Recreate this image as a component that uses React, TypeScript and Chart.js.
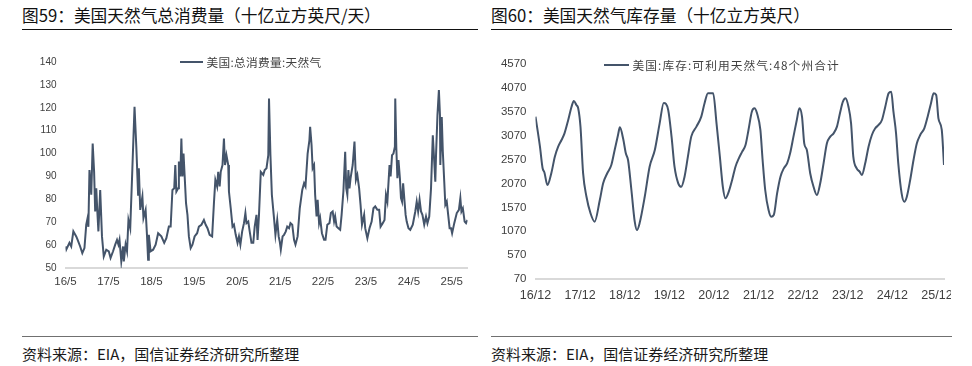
import React, { useEffect, useRef } from 'react';
import { Chart, registerables } from 'chart.js';

Chart.register(...registerables);

// ---------- Left chart: US natural gas total consumption (Bcf/d) ----------
// x = months since 2016-05
const consumptionMonths = [
  0.0, 0.2, 1.1, 1.6, 2.2, 3.0, 3.4, 4.1, 4.7, 5.3, 5.8, 6.2, 6.4, 6.7, 7.2, 7.6, 8.0, 8.3, 8.6, 8.9,
  9.2, 9.7, 10.2, 10.7, 11.4, 12.1, 12.6, 13.3, 13.9, 14.4, 14.8, 15.1, 15.6, 16.1, 16.3, 16.8, 17.2, 17.6, 18.1, 18.7,
  19.3, 19.8, 20.3, 20.5, 20.9, 21.5, 21.8, 22.4, 22.8, 23.1, 23.3, 23.8, 24.5, 25.2, 25.9, 26.8, 27.6, 28.2, 28.9, 29.4,
  29.9, 30.4, 30.7, 31.0, 31.5, 31.7, 32.1, 32.4, 32.7, 33.0, 33.3, 33.7, 34.1, 34.5, 35.0, 35.5, 36.1, 36.8, 37.3, 38.0,
  38.7, 39.2, 39.7, 40.3, 41.0, 41.5, 41.9, 42.4, 42.7, 43.1, 43.4, 43.9, 44.3, 44.6, 45.0, 45.5, 45.7, 46.2, 46.7, 47.1,
  47.6, 48.1, 48.5, 48.9, 49.4, 49.9, 50.3, 50.6, 51.1, 51.5, 52.0, 52.5, 52.9, 53.4, 53.7, 54.1, 54.6, 55.3, 55.7, 56.2,
  56.7, 56.9, 57.3, 57.7, 58.3, 58.7, 59.2, 59.6, 59.9, 60.2, 60.7, 61.1, 61.6, 62.0, 62.5, 62.9, 63.4, 63.9, 64.3, 64.9,
  65.5, 66.2, 66.7, 67.1, 67.7, 68.2, 68.4, 68.8, 69.1, 69.5, 69.8, 70.2, 70.5, 70.9, 71.2, 71.7, 72.3, 72.7, 73.2, 73.8,
  74.2, 74.7, 75.1, 75.4, 75.8, 76.3, 76.8, 77.2, 77.7, 78.2, 78.5, 78.8, 79.1, 79.4, 79.7, 80.3, 80.8, 81.2, 81.6, 82.1,
  82.5, 82.9, 83.5, 83.8, 84.4, 85.0, 85.6, 86.1, 86.6, 87.2, 87.7, 88.1, 88.7, 89.2, 89.6, 90.0, 90.6, 90.9, 91.3, 91.7,
  92.1, 92.2, 92.5, 92.8, 93.1, 93.5, 93.8, 94.1, 94.4, 94.8, 95.1, 95.4, 95.9, 96.4, 97.1, 97.8, 98.2, 98.6, 99.0, 99.4,
  99.8, 100.3, 100.8, 101.2, 101.7, 102.2, 102.7, 103.1, 103.4, 103.6, 104.0, 104.4, 104.7, 104.8, 105.2, 105.5, 105.9, 106.2, 106.6, 107.0,
  107.4, 107.8, 108.1, 108.7, 109.4, 110.0, 110.4, 110.7, 111.1, 111.6, 112.0, 112.4,
];
const consumptionValues = [
  59.4, 58, 61, 59.4, 66, 63.8, 62.3, 59.4, 56.5, 58.7, 68.9, 72, 68, 92.8, 82, 104.4, 92, 74.7, 84.8, 74.7,
  66, 84.1, 63.8, 55, 58, 57.3, 54.4, 57.3, 60.2, 62.3, 60.2, 62.3, 52.9, 59.4, 52.9, 60.2, 57.3, 71, 67.4, 93.6,
  120.4, 103, 82, 93.6, 75.4, 81.2, 71.8, 75.4, 63.8, 53.6, 64.5, 57.3, 58, 60.2, 65.2, 63.8, 61, 63, 68.1, 68.1,
  84.1, 84.8, 95, 83.4, 84.8, 96.5, 90, 106.6, 90, 100, 90.7, 78.3, 73.2, 63.8, 58.7, 60.2, 63.8, 65.2, 68.1, 68.9,
  71, 68.9, 67.4, 64.5, 63.8, 78.3, 88.5, 85.6, 92, 85.6, 92, 95, 106.6, 95, 99.3, 95, 83.4, 76.1, 68.1, 68.9,
  64.5, 61, 63.8, 60.2, 66, 69.6, 74, 69.6, 70.3, 66, 61, 61, 68.1, 73.2, 62.3, 73.2, 92, 90.7, 92.8, 93.6,
  99.3, 124, 99.3, 82, 71.8, 64.5, 71, 63.8, 61.6, 58, 63.8, 64.5, 66, 68.1, 67.4, 69.6, 68.9, 62.3, 60.2, 63.8,
  76.1, 84.1, 87, 85.6, 100, 105.9, 111.7, 103.7, 93.6, 95, 82, 72.5, 79.8, 69.6, 71.8, 65.2, 62.3, 62.3, 68.9, 69.6,
  74, 74.7, 70.3, 72.5, 68.1, 67.4, 66.7, 73.2, 83.4, 100.8, 84.8, 82, 92.8, 84.8, 89.2, 95, 105.2, 88.5, 90.7, 84.8,
  77.6, 68.9, 73.2, 67.4, 63, 67.4, 70.3, 76.1, 76.9, 75.4, 75.4, 68.1, 69.6, 71, 82, 79, 95, 90, 99.3, 100,
  103, 124, 102.3, 89.2, 97.2, 89.2, 80.5, 79, 87, 79, 73.2, 70.3, 67.4, 66.7, 68.9, 74.7, 79, 74.7, 79.8, 74.7,
  73.2, 68.9, 72.5, 69.6, 72.5, 84.8, 108, 96.5, 87.7, 99.3, 116.8, 127.7, 116.8, 95, 116, 100.8, 87.7, 77.6, 79, 73.2,
  67.4, 67.4, 65.2, 69.6, 74, 75.4, 80.5, 74.7, 76.1, 70.3, 69.6, 71,
];
const consumptionTickMonths = [0, 12, 24, 36, 48, 60, 72, 84, 96, 108];
const consumptionTickLabels = ['16/5', '17/5', '18/5', '19/5', '20/5', '21/5', '22/5', '23/5', '24/5', '25/5'];
const consumptionYTicks = [50, 60, 70, 80, 90, 100, 110, 120, 130, 140];

// ---------- Right chart: US natural gas working storage, Lower 48 (Bcf) ----------
// x = months since 2016-12
const storageMonths = [
  0, 1.2, 1.9, 2.4, 3.2, 4.3, 5.2, 6.1, 7.0, 7.8, 8.8, 9.7, 10.3, 11.0, 11.5, 12.1, 12.8, 13.7, 14.8, 15.9,
  17.3, 18.2, 19.3, 20.4, 21.3, 22.2, 22.7, 23.6, 24.3, 24.9, 25.8, 26.7, 27.3, 28.0, 29.4, 30.7, 32.1, 33.4, 34.5, 35.7,
  36.6, 37.4, 38.4, 39.2, 40.1, 41.0, 41.9, 43.3, 44.6, 45.5, 46.4, 47.8, 48.7, 49.6, 50.4, 51.1, 52.0, 52.9, 53.8, 54.7,
  55.6, 56.5, 57.3, 58.2, 58.9, 59.6, 60.5, 61.1, 61.8, 62.7, 63.4, 64.1, 65.0, 65.9, 66.8, 67.7, 68.5, 69.4, 70.3, 71.0,
  71.7, 72.3, 73.0, 73.9, 74.8, 75.7, 76.6, 77.5, 78.4, 79.3, 80.2, 81.1, 82.0, 82.7, 83.4, 84.2, 84.9, 85.5, 86.4, 87.2,
  87.8, 88.7, 89.6, 90.5, 91.4, 92.3, 93.2, 94.1, 95.0, 95.7, 96.3, 97.0, 97.6, 98.5, 99.2, 99.9, 100.8, 101.7, 102.6, 103.5,
  104.6, 105.5, 106.4, 107.1, 107.8, 108.4, 109.3, 109.9,
];
const storageValues = [
  3468, 2839, 2393, 2300, 2037, 2300, 2630, 2839, 2979, 3119, 3398, 3676, 3796, 3712, 3640, 3260, 2290, 1796, 1445, 1270,
  1724, 2073, 2283, 2456, 2770, 3084, 3244, 3000, 2700, 2560, 1933, 1270, 1095, 1236, 1796, 2421, 2770, 3328, 3754, 3608,
  3050, 2421, 2073, 2000, 2212, 2630, 3050, 3260, 3468, 3754, 3957, 3957, 3328, 2630, 2000, 1759, 1898, 2142, 2421, 2595,
  2735, 2874, 3189, 3572, 3643, 3538, 3189, 2561, 1933, 1514, 1374, 1409, 1863, 2212, 2386, 2491, 2700, 3050, 3398, 3643,
  3468, 2910, 2770, 2283, 2000, 1828, 2073, 2491, 2910, 3050, 3119, 3260, 3572, 3781, 3852, 3676, 3328, 2630, 2386, 2316,
  2247, 2491, 2839, 3084, 3224, 3294, 3398, 3676, 3957, 3990, 3572, 3119, 2491, 1863, 1688, 1793, 2142, 2561, 2910, 3084,
  3224, 3468, 3748, 3957, 3922, 3433, 3189, 2456,
];
const storageTickMonths = [0, 12, 24, 36, 48, 60, 72, 84, 96, 108];
const storageTickLabels = ['16/12', '17/12', '18/12', '19/12', '20/12', '21/12', '22/12', '23/12', '24/12', '25/12'];
const storageYTicks = [70, 570, 1070, 1570, 2070, 2570, 3070, 3570, 4070, 4570];

const LINE_COLOR = '#44546A';
const TICK_COLOR = '#404040';
const CJK = '"Noto Sans CJK SC", "Noto Sans", sans-serif';
const LATIN = '"Liberation Sans", Arial, sans-serif';

type ChartProps = {
  label: string;
  xs: number[];
  ys: number[];
  xTicks: number[];
  xLabels: string[];
  yTicks: number[];
  xMax: number;
  width: number;
  height: number;
  padding: { left: number; right: number; top: number; bottom: number };
  yWidth: number;
  xHeight: number;
  xFont: number;
  yFont: number;
  xPad: number;
  yPad: number;
  smooth: boolean;
};

function LineChart(p: ChartProps) {
  const ref = useRef<HTMLCanvasElement>(null);
  useEffect(() => {
    if (!ref.current) return;
    const chart = new Chart(ref.current, {
      type: 'line',
      data: {
        datasets: [
          {
            label: p.label,
            data: p.xs.map((x, i) => ({ x, y: p.ys[i] })),
            borderColor: LINE_COLOR,
            backgroundColor: LINE_COLOR,
            borderWidth: 2,
            pointRadius: 0,
            fill: false,
            tension: 0,
            cubicInterpolationMode: p.smooth ? 'monotone' : 'default',
          },
        ],
      },
      options: {
        animation: false,
        responsive: false,
        maintainAspectRatio: false,
        layout: { padding: p.padding },
        plugins: { legend: { display: false }, tooltip: { enabled: false } },
        scales: {
          x: {
            type: 'linear',
            min: 0,
            max: p.xMax,
            grid: { display: false, drawTicks: false },
            border: { display: true, color: '#d9d9d9', width: 2 },
            ticks: {
              autoSkip: false,
              maxRotation: 0,
              padding: p.xPad,
              color: TICK_COLOR,
              font: { family: LATIN, size: p.xFont },
              callback: (_v: any, i: number) => p.xLabels[i],
            },
            afterBuildTicks: (s: any) => {
              s.ticks = p.xTicks.map((v) => ({ value: v }));
            },
            afterFit: (s: any) => {
              s.height = p.xHeight;
            },
          },
          y: {
            type: 'linear',
            min: p.yTicks[0],
            max: p.yTicks[p.yTicks.length - 1],
            grid: { display: false, drawTicks: false },
            border: { display: false },
            ticks: {
              padding: p.yPad,
              color: TICK_COLOR,
              font: { family: LATIN, size: p.yFont },
              callback: (v: any) => String(v),
            },
            afterBuildTicks: (s: any) => {
              s.ticks = p.yTicks.map((v) => ({ value: v }));
            },
            afterFit: (s: any) => {
              s.width = p.yWidth;
            },
          },
        },
      },
    } as any);
    return () => chart.destroy();
  }, []);
  return (
    <canvas
      ref={ref}
      width={p.width}
      height={p.height}
      style={{ display: 'block', width: p.width, height: p.height }}
    />
  );
}

const abs = (left: number, top: number, extra: React.CSSProperties = {}): React.CSSProperties => ({
  position: 'absolute',
  left,
  top,
  ...extra,
});

function Legend({
  lineLeft,
  lineWidth,
  textLeft,
  y,
  text,
  spacing,
}: {
  lineLeft: number;
  lineWidth: number;
  textLeft: number;
  y: number;
  text: string;
  spacing: number;
}) {
  return (
    <>
      <div style={abs(lineLeft, y - 1, { width: lineWidth, height: 2, background: LINE_COLOR })} />
      <div
        style={abs(textLeft, y - 8, {
          fontFamily: CJK,
          fontSize: 11.7,
          lineHeight: '16px',
          letterSpacing: spacing,
          color: TICK_COLOR,
          whiteSpace: 'nowrap',
        })}
      >
        {text}
      </div>
    </>
  );
}

export default function App() {
  const titleStyle: React.CSSProperties = {
    fontFamily: CJK,
    fontSize: 16.7,
    lineHeight: '20px',
    color: '#111',
    fontWeight: 400,
    whiteSpace: 'nowrap',
  };
  const sourceStyle: React.CSSProperties = {
    fontFamily: CJK,
    fontSize: 15,
    lineHeight: '20px',
    color: '#1a1a1a',
    whiteSpace: 'nowrap',
  };
  return (
    <div style={{ position: 'absolute', left: 0, top: 0, width: 972, height: 366, background: '#fff', overflow: 'hidden' }}>
      {/* Left panel */}
      <div style={abs(22, 4.5, titleStyle)}>图59：美国天然气总消费量（十亿立方英尺/天）</div>
      <div style={abs(22, 29, { width: 456, height: 1, background: '#111' })} />
      <div style={abs(22, 35)}>
        <LineChart
          label="美国:总消费量:天然气"
          xs={consumptionMonths}
          ys={consumptionValues}
          xTicks={consumptionTickMonths}
          xLabels={consumptionTickLabels}
          yTicks={consumptionYTicks}
          xMax={112.4}
          width={456}
          height={265}
          padding={{ left: 0, right: 10.5, top: 27, bottom: 0 }}
          yWidth={43.5}
          xHeight={32}
          xFont={11.5}
          yFont={10}
          xPad={7}
          yPad={9}
          smooth={false}
        />
      </div>
      <Legend lineLeft={180} lineWidth={23} textLeft={206.5} y={62} spacing={0.3} text="美国:总消费量:天然气" />
      <div style={abs(22, 335.5, { width: 456, height: 1.5, background: '#707070' })} />
      <div style={abs(22, 343.5, sourceStyle)}>资料来源：EIA，国信证券经济研究所整理</div>

      {/* Right panel */}
      <div style={abs(491, 4.5, titleStyle)}>图60：美国天然气库存量（十亿立方英尺）</div>
      <div style={abs(491, 29, { width: 461, height: 1, background: '#111' })} />
      <div style={abs(491, 35, { width: 460, height: 280, overflow: 'hidden' })}>
        <LineChart
          label="美国:库存:可利用天然气:48个州合计"
          xs={storageMonths}
          ys={storageValues}
          xTicks={storageTickMonths}
          xLabels={storageTickLabels}
          yTicks={storageYTicks}
          xMax={109.9}
          width={475}
          height={278}
          padding={{ left: 0, right: 22, top: 29, bottom: 0 }}
          yWidth={44.5}
          xHeight={34}
          xFont={12.5}
          yFont={11.5}
          xPad={9.5}
          yPad={9}
          smooth={true}
        />
      </div>
      <Legend lineLeft={604} lineWidth={25} textLeft={632.5} y={65} spacing={1.1} text="美国:库存:可利用天然气:48个州合计" />
      <div style={abs(491, 335.5, { width: 461, height: 1.5, background: '#707070' })} />
      <div style={abs(491, 343.5, sourceStyle)}>资料来源：EIA，国信证券经济研究所整理</div>
    </div>
  );
}
